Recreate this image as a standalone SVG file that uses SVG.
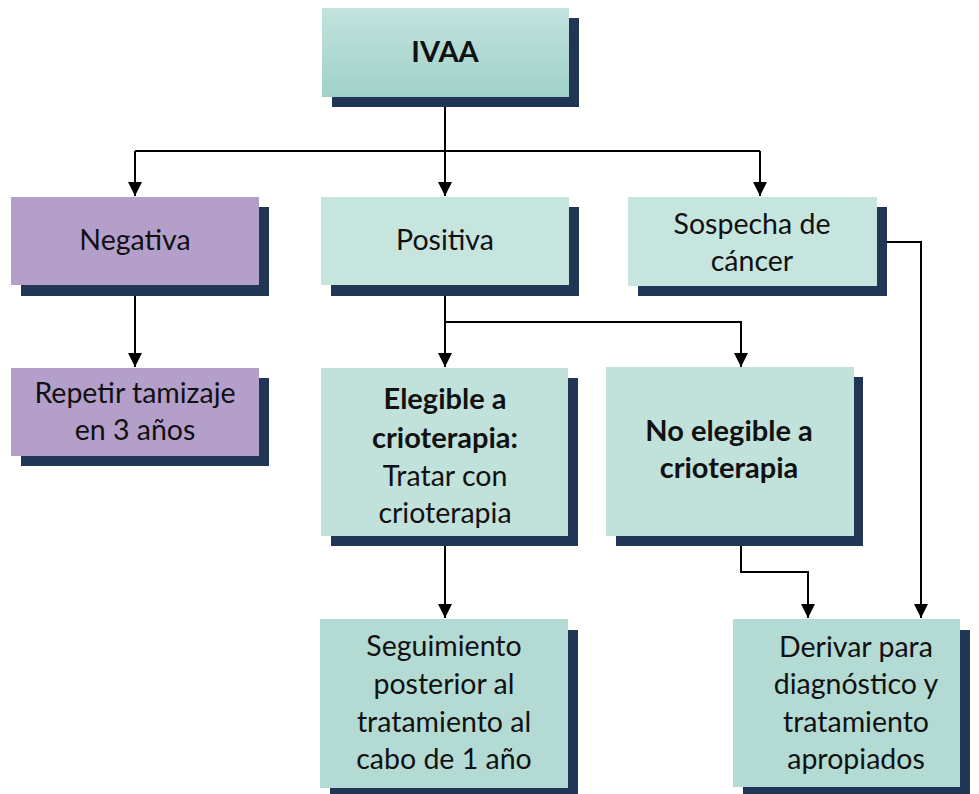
<svg xmlns="http://www.w3.org/2000/svg" width="979" height="794" viewBox="0 0 979 794">
<defs>
<linearGradient id="gTop" x1="0" y1="0" x2="0" y2="1">
<stop offset="0" stop-color="#c2e3de"/>
<stop offset="1" stop-color="#a0d1c9"/>
</linearGradient>
<marker id="arr" viewBox="0 0 10 10" refX="10" refY="5" markerWidth="14" markerHeight="14" markerUnits="userSpaceOnUse" orient="auto">
<path d="M0,0 L10,5 L0,10 z" fill="#000"/>
</marker>
<style>
.sh{fill:#213555}
.teal{fill:#c1e1db}
.teal2{fill:#b3dbd4}
.purp{fill:#b49fca}
text{font-family:Lato,"Open Sans","Liberation Sans",sans-serif;font-size:28.5px;fill:#111;text-anchor:middle}
.b{font-weight:bold;font-size:29px}
.c{fill:none;stroke:#000;stroke-width:2}
</style>
</defs>
<rect width="979" height="794" fill="#fff"/>
<g id="connectors">
<path class="c" d="M445,97 V151"/>
<path class="c" d="M135,151 H760"/>
<path class="c" d="M135,151 V196" marker-end="url(#arr)"/>
<path class="c" d="M445,151 V196" marker-end="url(#arr)"/>
<path class="c" d="M760,151 V196" marker-end="url(#arr)"/>
<path class="c" d="M135,285 V367" marker-end="url(#arr)"/>
<path class="c" d="M445,285 V367" marker-end="url(#arr)"/>
<path class="c" d="M445,322 H741 V367" marker-end="url(#arr)"/>
<path class="c" d="M445,536 V618" marker-end="url(#arr)"/>
<path class="c" d="M741,536 V572 H808 V618" marker-end="url(#arr)"/>
<path class="c" d="M877,242 H921 V618" marker-end="url(#arr)"/>
</g>
<g id="ivaa">
<rect class="sh" x="332" y="18" width="247" height="89"/>
<rect x="322" y="8" width="247" height="89" fill="url(#gTop)"/>
<text class="b" x="445" y="62">IVAA</text>
</g>
<g id="negativa">
<rect class="sh" x="21" y="207" width="248" height="89"/>
<rect class="purp" x="11" y="197" width="248" height="88"/>
<text x="135" y="250">Negativa</text>
</g>
<g id="positiva">
<rect class="sh" x="331" y="207" width="248" height="89"/>
<rect class="teal" x="321" y="197" width="248" height="88" style="fill:#c7e5df"/>
<text x="445" y="250">Positiva</text>
</g>
<g id="sospecha">
<rect class="sh" x="638" y="207" width="249" height="89"/>
<rect class="teal" x="628" y="197" width="249" height="89" style="fill:#c7e5df"/>
<text x="752" y="234">Sospecha de</text>
<text x="752" y="271">cáncer</text>
</g>
<g id="repetir">
<rect class="sh" x="21" y="378" width="248" height="88"/>
<rect class="purp" x="11" y="368" width="248" height="88"/>
<text x="135" y="403">Repetir tamizaje</text>
<text x="135" y="440">en 3 años</text>
</g>
<g id="elegible">
<rect class="sh" x="331" y="378" width="247" height="168"/>
<rect class="teal" x="321" y="368" width="247" height="168"/>
<text class="b" x="445" y="409">Elegible a</text>
<text class="b" x="445" y="448">crioterapia:</text>
<text x="445" y="486">Tratar con</text>
<text x="445" y="523">crioterapia</text>
</g>
<g id="noelegible">
<rect class="sh" x="616" y="377" width="247" height="169"/>
<rect class="teal" x="606" y="367" width="248" height="169"/>
<text class="b" x="729" y="441">No elegible a</text>
<text class="b" x="729" y="478">crioterapia</text>
</g>
<g id="seguimiento">
<rect class="sh" x="330" y="630" width="248" height="170"/>
<rect class="teal2" x="320" y="619" width="248" height="169"/>
<text x="444" y="656">Seguimiento</text>
<text x="444" y="694">posterior al</text>
<text x="444" y="732">tratamiento al</text>
<text x="444" y="769">cabo de 1 año</text>
</g>
<g id="derivar">
<rect class="sh" x="743" y="630" width="227" height="170"/>
<rect class="teal2" x="733" y="619" width="227" height="168"/>
<text x="856" y="657">Derivar para</text>
<text x="856" y="694">diagnóstico y</text>
<text x="856" y="732">tratamiento</text>
<text x="856" y="769">apropiados</text>
</g>
</svg>
